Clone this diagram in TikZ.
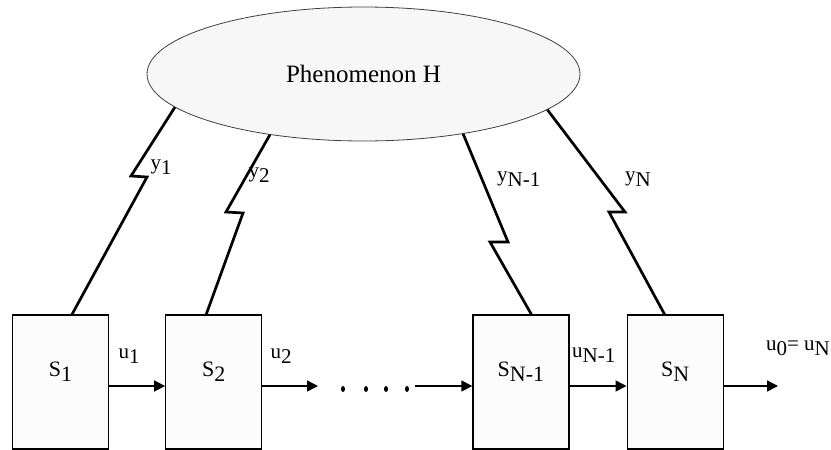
\documentclass[tikz,border=0pt]{standalone}
\usepackage{fontspec}
\setmainfont{Liberation Serif}
\usepackage{tikz}
\usetikzlibrary{positioning}
\usetikzlibrary{shapes.geometric}
\usetikzlibrary{arrows.meta}

\newcommand{\lowsub}[1]{\raisebox{-5pt}{#1}}

\begin{document}
\begin{tikzpicture}[x=1pt, y=-1pt,
                      >={Triangle[length=11pt, width=11pt]},
                      bignode/.style={ellipse, draw=black!75, line width=0.8pt, fill=gray!6, minimum width=433pt, minimum height=134pt, inner sep=0pt, font=\fontsize{25}{30}\selectfont},
                      sensornode/.style={rectangle, draw, fill=gray!2, line width=1.2pt, minimum width=96pt, minimum height=134pt, inner sep=0pt, text height=15pt, text depth=27pt, font=\fontsize{22}{26}\selectfont},
                      labelnode/.style={inner sep=0pt, font=\fontsize{21}{25}\selectfont},
                      signal/.style={line width=2.7pt},
                      flow/.style={->, line width=1.6pt},
                  ]
                  \useasboundingbox (0,0) rectangle (831,450);

                  %Nodes
                  \node[bignode]      (H)                            at (363.5,74)  {Phenomenon H};
                  \node[sensornode]   (S1)                           at (60.5,382)  {S\lowsub{1}};
                  \node[sensornode]   (S2)    [right=56pt of S1]                    {S\lowsub{2}};
                  \node[sensornode]   (SN1)   [right=210pt of S2]                   {S\lowsub{N-1}};
                  \node[sensornode]   (SN)    [right=57pt of SN1]                   {S\lowsub{N}};

                  %Bends of the links
                  \coordinate (y1a) at (131,176);
                  \coordinate (y1b) at (147,177);
                  \coordinate (y2a) at (226,212);
                  \coordinate (y2b) at (243,213);
                  \coordinate (yN1a) at (508,242);
                  \coordinate (yN1b) at (490,242);
                  \coordinate (yNa) at (625,212);
                  \coordinate (yNb) at (609,212);

                  %Labels
                  \node[labelnode]    (y1)     at (161,167)   {y\lowsub{1}};
                  \node[labelnode]    (y2)     at (259,175)   {y\lowsub{2}};
                  \node[labelnode, anchor=west]    (yN1)    at (497,179)   {y\lowsub{N-1}};
                  \node[labelnode]    (yN)     at (638,179)   {y\lowsub{N}};
                  \node[labelnode]    (u1)     at (129,356)   {u\lowsub{1}};
                  \node[labelnode]    (u2)     at (281,356)   {u\lowsub{2}};
                  \node[labelnode, anchor=west]    (uN1)    at (572,355)   {u\lowsub{N-1}};
                  \node[labelnode]    (u0)     at (798,348)   {u\lowsub{0}= u\lowsub{N}};

                  %Links
                  \draw[signal] (H.-170) -- (y1a) -- (y1b) -- ([xshift=11.5pt]S1.north);
                  \draw[signal] (H.-147) -- (y2a) -- (y2b) -- ([xshift=-7.5pt]S2.north);
                  \draw[signal] (H.-31) -- (yN1a) -- (yN1b) -- ([xshift=10.5pt]SN1.north);
                  \draw[signal] (H.-11) -- (yNa) -- (yNb) -- ([xshift=-10.5pt]SN.north);

                  %Lines
                  \coordinate (dotsin)  at (318,386);
                  \coordinate (dotsout) at (415,386);
                  \coordinate (out)     at (778,386);
                  \draw[flow] ([yshift=-4pt]S1.east) -- ([yshift=-4pt]S2.west);
                  \draw[flow] ([yshift=-4pt]S2.east) -- (dotsin);
                  \draw[flow] (dotsout) -- ([yshift=-4pt]SN1.west);
                  \draw[flow] ([yshift=-4pt]SN1.east) -- ([yshift=-4pt]SN.west);
                  \draw[flow] ([yshift=-4pt]SN.east) -- (out);
                  \foreach \x in {343,366,386,407}
                      \fill (\x,389) ellipse (2pt and 3pt);
\end{tikzpicture}
\end{document}
